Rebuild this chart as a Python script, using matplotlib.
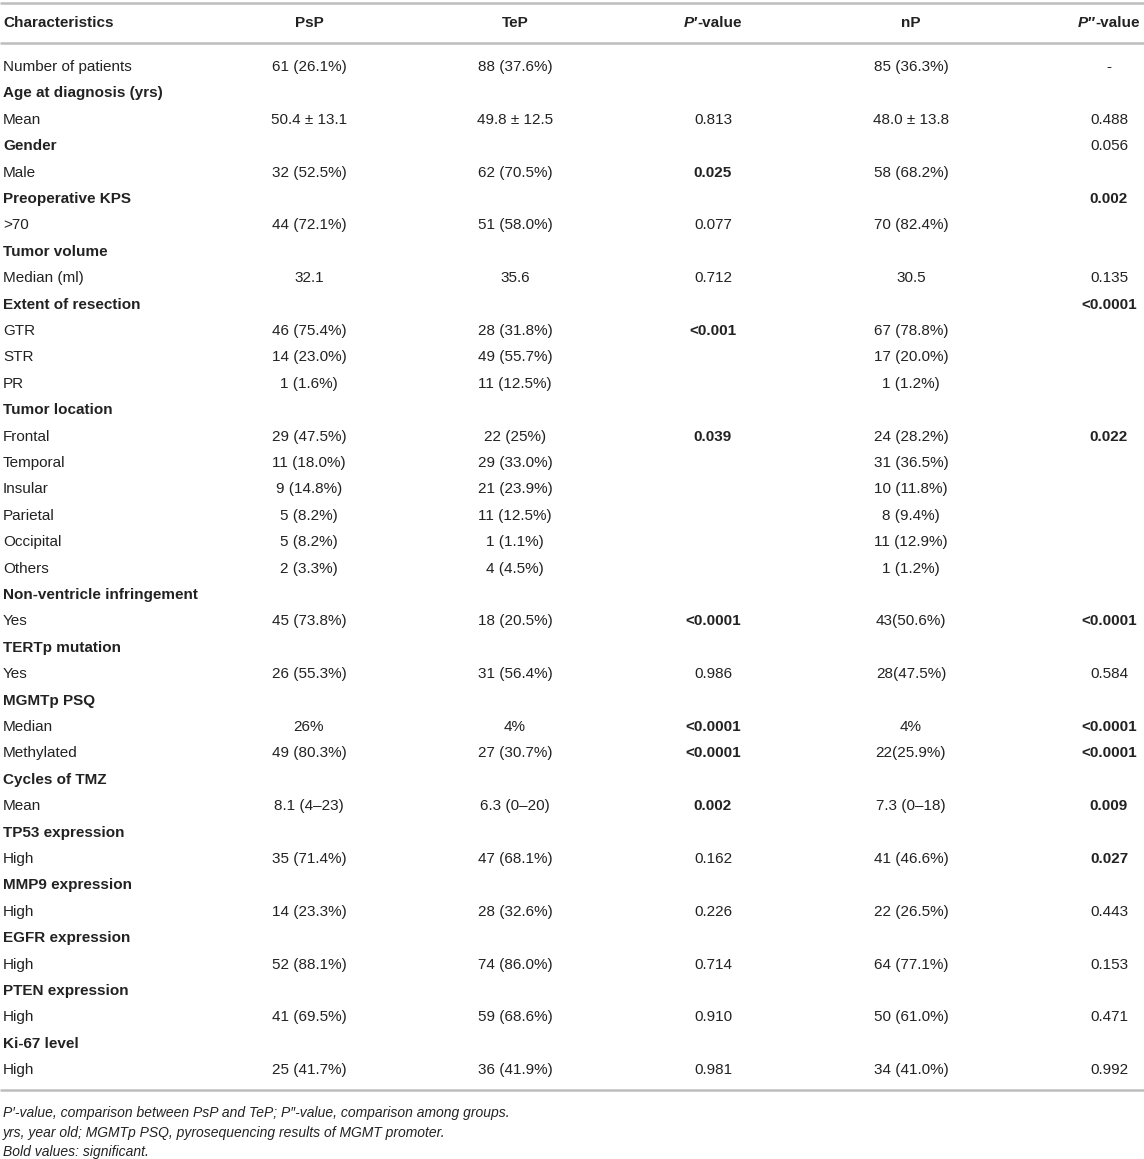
import matplotlib
matplotlib.use("Agg")
import matplotlib.pyplot as plt

FAM = ["Liberation Sans", "DejaVu Sans"]

# ---------------- data ----------------
columns = ["Characteristics", "PsP", "TeP", "P′-value", "nP", "P″-value"]

labels = [
    "Number of patients", "Age at diagnosis (yrs)", "Mean", "Gender", "Male",
    "Preoperative KPS", ">70", "Tumor volume", "Median (ml)", "Extent of resection",
    "GTR", "STR", "PR", "Tumor location", "Frontal", "Temporal", "Insular",
    "Parietal", "Occipital", "Others", "Non-ventricle infringement", "Yes",
    "TERTp mutation", "Yes", "MGMTp PSQ", "Median", "Methylated", "Cycles of TMZ",
    "Mean", "TP53 expression", "High", "MMP9 expression", "High", "EGFR expression",
    "High", "PTEN expression", "High", "Ki-67 level", "High",
]
label_bold = [
    0, 1, 0, 1, 0, 1, 0, 1, 0, 1, 0, 0, 0, 1, 0, 0, 0, 0, 0, 0, 1, 0, 1, 0, 1, 0, 0,
    1, 0, 1, 0, 1, 0, 1, 0, 1, 0, 1, 0,
]
psp = [
    "61 (26.1%)", "", "50.4 ± 13.1", "", "32 (52.5%)", "", "44 (72.1%)", "", "32.1", "",
    "46 (75.4%)", "14 (23.0%)", "1 (1.6%)", "", "29 (47.5%)", "11 (18.0%)", "9 (14.8%)",
    "5 (8.2%)", "5 (8.2%)", "2 (3.3%)", "", "45 (73.8%)", "", "26 (55.3%)", "", "26%",
    "49 (80.3%)", "", "8.1 (4–23)", "", "35 (71.4%)", "", "14 (23.3%)", "", "52 (88.1%)",
    "", "41 (69.5%)", "", "25 (41.7%)",
]
tep = [
    "88 (37.6%)", "", "49.8 ± 12.5", "", "62 (70.5%)", "", "51 (58.0%)", "", "35.6", "",
    "28 (31.8%)", "49 (55.7%)", "11 (12.5%)", "", "22 (25%)", "29 (33.0%)", "21 (23.9%)",
    "11 (12.5%)", "1 (1.1%)", "4 (4.5%)", "", "18 (20.5%)", "", "31 (56.4%)", "", "4%",
    "27 (30.7%)", "", "6.3 (0–20)", "", "47 (68.1%)", "", "28 (32.6%)", "", "74 (86.0%)",
    "", "59 (68.6%)", "", "36 (41.9%)",
]
p_prime = [
    "", "", "0.813", "", "0.025", "", "0.077", "", "0.712", "",
    "<0.001", "", "", "", "0.039", "", "", "", "", "", "", "<0.0001", "", "0.986", "",
    "<0.0001", "<0.0001", "", "0.002", "", "0.162", "", "0.226", "", "0.714", "",
    "0.910", "", "0.981",
]
p_prime_bold = [
    0, 0, 0, 0, 1, 0, 0, 0, 0, 0, 1, 0, 0, 0, 1, 0, 0, 0, 0, 0, 0, 1, 0, 0, 0, 1, 1,
    0, 1, 0, 0, 0, 0, 0, 0, 0, 0, 0, 0,
]
n_p = [
    "85 (36.3%)", "", "48.0 ± 13.8", "", "58 (68.2%)", "", "70 (82.4%)", "", "30.5", "",
    "67 (78.8%)", "17 (20.0%)", "1 (1.2%)", "", "24 (28.2%)", "31 (36.5%)", "10 (11.8%)",
    "8 (9.4%)", "11 (12.9%)", "1 (1.2%)", "", "43(50.6%)", "", "28(47.5%)", "", "4%",
    "22(25.9%)", "", "7.3 (0–18)", "", "41 (46.6%)", "", "22 (26.5%)", "", "64 (77.1%)",
    "", "50 (61.0%)", "", "34 (41.0%)",
]
p_dprime = [
    "-", "", "0.488", "0.056", "", "0.002", "", "", "0.135", "<0.0001",
    "", "", "", "", "0.022", "", "", "", "", "", "", "<0.0001", "", "0.584", "",
    "<0.0001", "<0.0001", "", "0.009", "", "0.027", "", "0.443", "", "0.153", "",
    "0.471", "", "0.992",
]
p_dprime_bold = [
    0, 0, 0, 0, 0, 1, 0, 0, 0, 1, 0, 0, 0, 0, 1, 0, 0, 0, 0, 0, 0, 1, 0, 0, 0, 1, 1,
    0, 1, 0, 1, 0, 0, 0, 0, 0, 0, 0, 0,
]
footnotes = [
    "P′-value, comparison between PsP and TeP; P″-value, comparison among groups.",
    "yrs, year old; MGMTp PSQ, pyrosequencing results of MGMT promoter.",
    "Bold values: significant.",
]

# ---------------- layout ----------------
W, H = 1144, 1159
fig = plt.figure(figsize=(W / 100, H / 100), dpi=100)
ax = fig.add_axes([0, 0, 1, 1])
ax.set_xlim(0, W)
ax.set_ylim(H, 0)
ax.axis("off")

FS = 11.0
FS_NOTE = 10.0
TXT = "#222222"
LINE = "#bdbdbd"

col_x = [3, 309, 515, 713, 911, 1109]
header_y = 23
row0_y = 67
row_step = 26.4

for y in (3, 43, 1090):
    ax.plot([0, W], [y, y], color=LINE, lw=1.8, solid_capstyle="butt")

renderer = fig.canvas.get_renderer()


def pieces_centered(x, y, pieces, size):
    """pieces: list of (text, style, weight); drawn side by side, centred at x."""
    arts = []
    for s, st, wt in pieces:
        t = ax.text(0, y, s, fontsize=size, style=st, weight=wt, family=FAM,
                    color=TXT, ha="left", va="center")
        arts.append(t)
    widths = [a.get_window_extent(renderer).width for a in arts]
    total = sum(widths)
    cur = x - total / 2
    for a, w in zip(arts, widths):
        a.set_x(cur)
        cur += w


# header
ax.text(col_x[0], header_y, columns[0], fontsize=FS, weight="bold", family=FAM,
        color=TXT, ha="left", va="center")
for i in (1, 2, 4):
    ax.text(col_x[i], header_y, columns[i], fontsize=FS, weight="bold", family=FAM,
            color=TXT, ha="center", va="center")
for i in (3, 5):
    head, tail = columns[i].split("-", 1)
    pieces_centered(col_x[i], header_y,
                    [(head, "italic", "bold"), ("-" + tail, "normal", "bold")], FS)

# body
for r, lab in enumerate(labels):
    y = row0_y + r * row_step
    ax.text(col_x[0], y, lab, fontsize=FS, weight="bold" if label_bold[r] else "normal",
            family=FAM, color=TXT, ha="left", va="center")
    for ci, vals, bold in ((1, psp, None), (2, tep, None), (3, p_prime, p_prime_bold),
                           (4, n_p, None), (5, p_dprime, p_dprime_bold)):
        v = vals[r]
        if not v:
            continue
        wt = "bold" if (bold is not None and bold[r]) else "normal"
        ax.text(col_x[ci], y, v, fontsize=FS, weight=wt, family=FAM, color=TXT,
                ha="center", va="center")

# footnotes
for k, note in enumerate(footnotes):
    ax.text(3, 1113 + k * 19.5, note, fontsize=FS_NOTE, style="italic", family=FAM,
            color=TXT, ha="left", va="center")

fig.savefig("out.png", dpi=100)
